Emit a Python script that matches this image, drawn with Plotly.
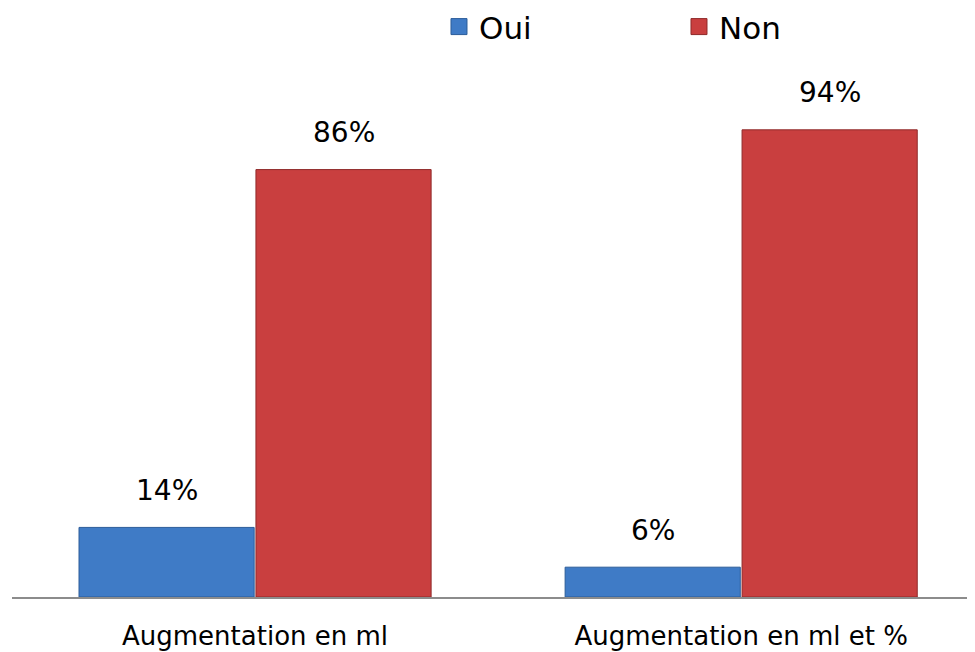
import plotly.graph_objects as go

# donnees
categories = ['Augmentation en ml', 'Augmentation en ml et %']
oui = [14, 6]
non = [86, 94]
series = [('Oui', oui, '#3f7bc6', '#2c5d99'), ('Non', non, '#c93f3f', '#8f2a2a')]

fig = go.Figure()
for nom, vals, couleur, bord in series:
    fig.add_trace(go.Bar(
        x=categories, y=vals, name=nom, showlegend=False,
        marker=dict(color=couleur, line=dict(color=bord, width=1))))
    # entree de legende (carre plus grand que le symbole de barre)
    fig.add_trace(go.Scatter(
        x=[None], y=[None], mode='markers', name=nom,
        marker=dict(symbol='square', size=16, color=couleur, line=dict(color=bord, width=1))))

# etiquettes de valeurs au-dessus des barres
dx = 0.182
for k, (nom, vals, couleur, bord) in enumerate(series):
    for i, v in enumerate(vals):
        fig.add_annotation(x=i + (k - 0.5) * 2 * dx, y=v, text=str(v) + '%',
                           showarrow=False, yshift=37, yanchor='middle',
                           font=dict(size=28, color='black'))

# la page html ajoute une marge de 8px autour de la figure
fig.update_layout(
    width=967, height=644,
    paper_bgcolor='white', plot_bgcolor='white',
    font=dict(family='DejaVu Sans', color='black'),
    margin=dict(l=4, r=0, t=92, b=55, autoexpand=False),
    barmode='group', bargap=0.272, bargroupgap=0.01,
    showlegend=True,
    legend=dict(orientation='h', x=0.4434, xanchor='left', y=1.147, yanchor='middle',
                font=dict(size=31), entrywidth=195, itemwidth=30),
    xaxis=dict(showline=True, linecolor='#8c8c8c', linewidth=2, range=[-0.5, 1.481],
               tickfont=dict(size=26), ticks='', ticklabelstandoff=15,
               showgrid=False, automargin=False),
    yaxis=dict(visible=False, range=[0, 100], showgrid=False),
)

fig.write_html("out.html")
